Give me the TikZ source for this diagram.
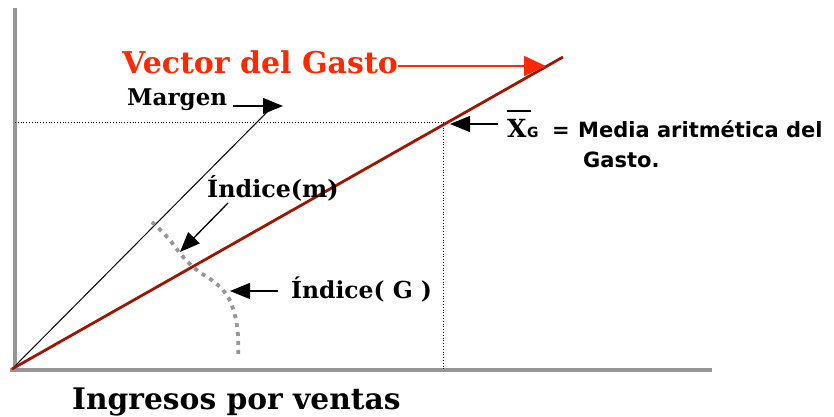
\documentclass[tikz,border=0pt]{standalone}
\usepackage{fontspec}
\setmainfont{DejaVu Serif}
\newfontfamily\arialb{DejaVu Sans}
\usetikzlibrary{arrows.meta}
\definecolor{axisgray}{RGB}{150,150,150}
\definecolor{vecred}{RGB}{255,40,0}
\definecolor{linered}{RGB}{160,20,0}
\begin{document}
\begin{tikzpicture}[x=1pt,y=-1pt,
  serlbl/.style={inner sep=0pt, anchor=base west, font=\bfseries\fontsize{#1}{#1}\selectfont},
  sanslbl/.style={inner sep=0pt, anchor=base west, font=\arialb\bfseries\fontsize{#1}{#1}\selectfont},
  blkarrow/.style={-{Triangle[length=20pt,width=16pt]}, line width=1.3pt},
  guide/.style={dotted, line width=0.8pt},
  axis/.style={axisgray, line width=4pt}]
\useasboundingbox (0,0) rectangle (834,416);
% axes
\coordinate (ytop) at (15,8);
\coordinate (ybot) at (15,372);
\coordinate (xl) at (10,370);
\coordinate (xr) at (712,370);
\draw[axis] (ytop) -- (ybot);
\draw[axis] (xl) -- (xr);
% key points
\coordinate (O) at (12,369);
\coordinate (Vend) at (563,57);
\coordinate (M) at (443,122);
\coordinate (Mx) at (443,370);
\coordinate (My) at (15,122);
\coordinate (Mend) at (272,107);
% guides
\draw[guide] (My) -- (M);
\draw[guide] (M) -- (Mx);
% lines
\draw[black, line width=1pt] (O) -- (Mend);
\draw[linered, line width=2.8pt] (O) -- (Vend);
% dotted arc
\draw[axisgray, line width=3.8pt, dash pattern=on 4pt off 5pt]
  plot[smooth, tension=0.7] coordinates {(152,222) (168,238) (184,258) (198,271) (213,281) (226,294) (234,312) (238,335) (238,358)};
% labels
\node[serlbl=30, text=vecred] (vec) at (122,73) {Vector del Gasto};
\coordinate (vecarr) at (546,66);
\draw[vecred, line width=1.3pt, -{Triangle[length=22pt,width=20pt]}] (vec.east |- 0,66) -- (vecarr);

\node[serlbl=23] (marg) at (127,105) {Margen};
\coordinate (margarr) at (283,106);
\coordinate (margst) at (233,106);
\draw[blkarrow] (margst) -- (margarr);

\node[serlbl=23.8] (im) at (207,197) {Índice(m)};
\coordinate (imarr) at (180,252);
\coordinate (imst) at (228,203);
\draw[blkarrow] (imst) -- (imarr);

\node[serlbl=23.4] (ig) at (291,298) {Índice( G )};
\coordinate (igarr) at (230,291);
\coordinate (igst) at (278,291);
\draw[blkarrow] (igst) -- (igarr);

\node[serlbl=25] (xg) at (507,137) {X};
\coordinate (barl) at (507,111);
\coordinate (barr) at (531,111);
\draw[line width=2.6pt] (barl) -- (barr);
\node[sanslbl=14] (gsub) at (xg.base east) {G};
\node[sanslbl=21] (eq) at (552,137) {=};
\node[sanslbl=21] (media) at (578,137) {Media aritmética del};
\node[sanslbl=21] (gasto) at (583,167) {Gasto.};
\coordinate (xgarr) at (450,124);
\coordinate (xgst) at (498,124);
\draw[blkarrow] (xgst) -- (xgarr);

\node[serlbl=29.7] (ing) at (72,409) {Ingresos por ventas};
\end{tikzpicture}
\end{document}
